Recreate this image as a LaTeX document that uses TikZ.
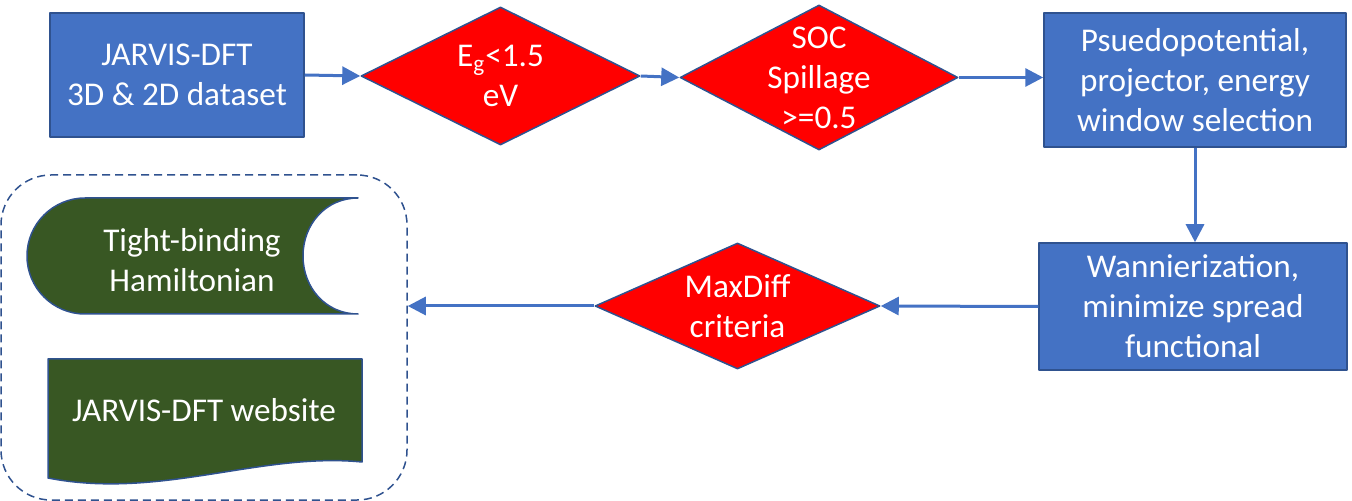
\documentclass[tikz,border=0pt]{standalone}
\usepackage{fontspec}
\setmainfont{Carlito}
\usetikzlibrary{arrows.meta, shapes.geometric, backgrounds}
\definecolor{officeblue}{HTML}{4472C4}
\definecolor{edgeblue}{HTML}{2F528F}
\definecolor{flagred}{HTML}{FF0000}
\definecolor{leafgreen}{HTML}{385723}
\newcommand{\flowfont}{\fontsize{16.6}{20}\selectfont}

\begin{document}
\begin{tikzpicture}[x=0.5pt, y=-0.5pt, line join=round,
    stepbox/.style={rectangle, draw=edgeblue, line width=0.75pt, fill=officeblue, text=white, align=center, font=\flowfont},
    check/.style={diamond, draw=edgeblue, line width=0.75pt, fill=flagred, inner sep=0pt},
    checktext/.style={text=white, align=center, inner sep=0pt, font=\flowfont},
    flow/.style={-{Triangle[length=9pt, width=9pt]}, line width=1.5pt, officeblue},
    result/.style={fill=leafgreen, draw=edgeblue, line width=0.75pt},
    resulttext/.style={text=white, align=center, font=\flowfont}]
      \useasboundingbox (0,0) rectangle (1352,501);

      % Upper row
      \node[stepbox, minimum width=127pt, minimum height=62pt] (jarvis) at (177,75) {JARVIS-DFT\\3D \& 2D dataset};
      \node[check, minimum width=139.5pt, minimum height=69pt] (egap) at (500.5,76) {};
      \node[checktext] (egaptext) at (egap) {E\textsubscript{g}<1.5\\eV};
      \node[check, minimum width=139pt, minimum height=72.5pt] (soc) at (819,77.5) {};
      \node[checktext] (soctext) at (soc) {SOC\\Spillage\\>=0.5};
      \node[stepbox, minimum width=151pt, minimum height=67pt] (proj) at (1195,80) {Psuedopotential,\\projector, energy\\window selection};

      % Lower row
      \node[stepbox, minimum width=154pt, minimum height=63.5pt] (wann) at (1193,306.5) {Wannierization,\\minimize spread\\functional};
      \node[check, minimum width=142.5pt, minimum height=63pt] (maxdiff) at (737.5,306) {};
      \node[checktext] (maxdifftext) at (maxdiff) {MaxDiff\\criteria};

      % Outputs
      \node[draw=edgeblue, line width=0.75pt, dash pattern=on 4pt off 2.5pt, rounded corners=25pt, minimum width=203pt, minimum height=162.5pt] (outputs) at (204,337.5) {};
      \draw[result] (85,198) -- (358,198) .. controls (326,198) and (303,224) .. (303,256)
        .. controls (303,288) and (326,314) .. (358,314) -- (85,314)
        .. controls (53,314) and (27,288) .. (27,256) .. controls (27,224) and (53,198) .. (85,198) -- cycle;
      \node[resulttext] (tbh) at (192,260) {Tight-binding\\Hamiltonian};
      \draw[result] (48,359) -- (362,359) -- (362,462) .. controls (260,452) and (160,500) .. (48,478) -- cycle;
      \node[resulttext] (website) at (204,410) {JARVIS-DFT website};

      % Arrows
      \draw[flow] (jarvis.east) -- (egap.west);
      \draw[flow] (egap.east) -- (soc.west);
      \draw[flow] (soc.east) -- (soc.east -| proj.west);
      \draw[flow] (proj.south) -- (proj.south |- wann.north);
      \draw[flow] (wann.west) -- (maxdiff.east);
      \draw[flow] (maxdiff.west) -- (maxdiff.west -| outputs.east);
\end{tikzpicture}
\end{document}
